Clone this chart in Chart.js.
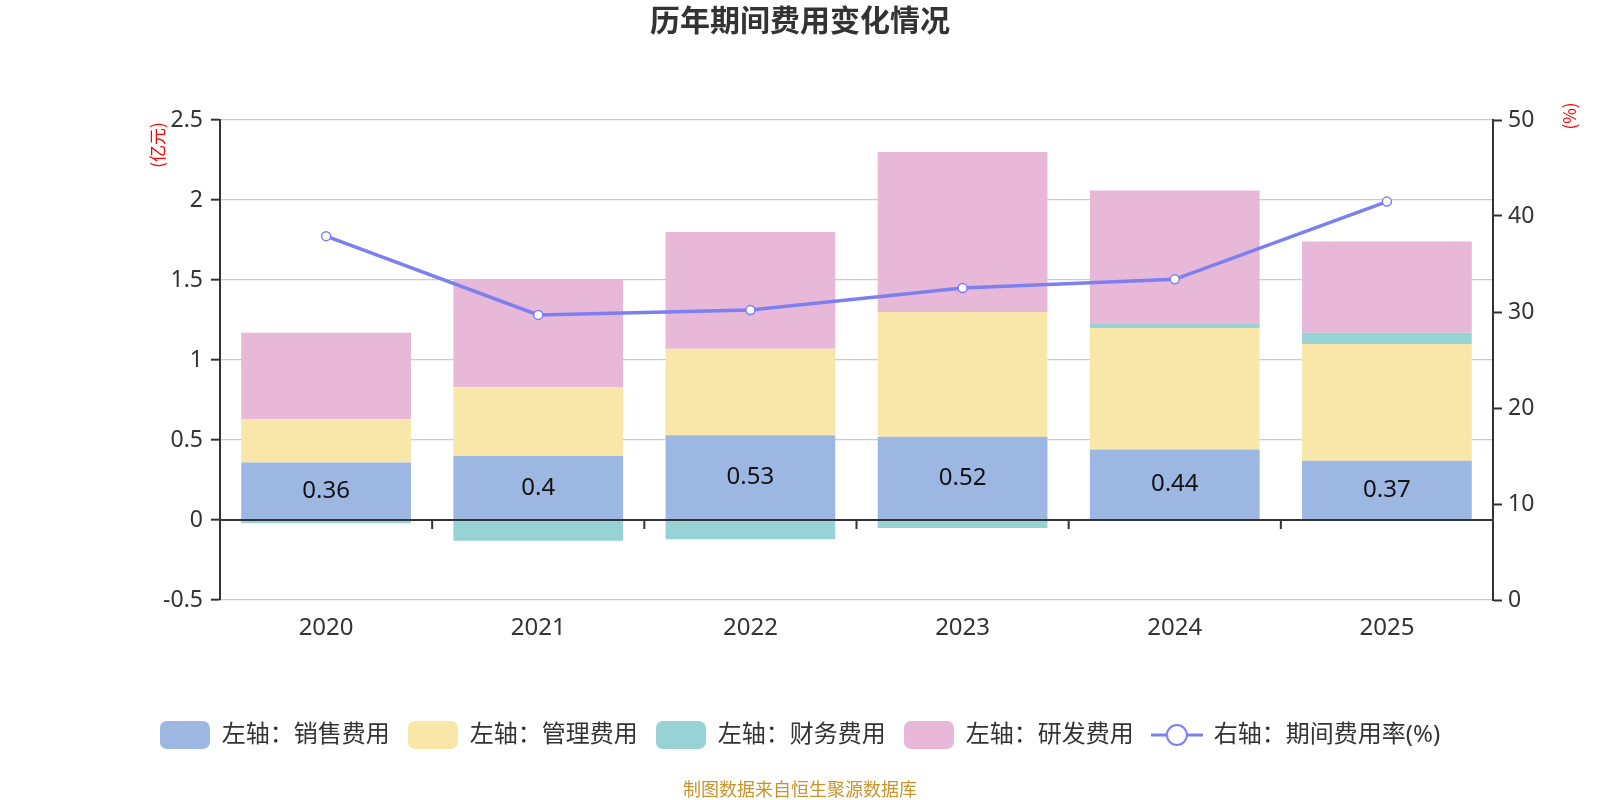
<!DOCTYPE html>
<html>
<head>
<meta charset="utf-8">
<script src="https://cdn.jsdelivr.net/npm/chart.js@4/dist/chart.umd.min.js"></script>
<style>
  body { margin: 0; background: #fff; }
  #wrap { width: 1600px; height: 800px; }
</style>
</head>
<body>
<div id="wrap"><canvas id="feeChart" width="1600" height="800"></canvas></div>
<script>
  // 数据
  const years = ["2020", "2021", "2022", "2023", "2024", "2025"];
  const sales = [0.36, 0.4, 0.53, 0.52, 0.44, 0.37];
  const admin = [0.27, 0.43, 0.54, 0.78, 0.76, 0.73];
  const finance = [-0.02, -0.13, -0.12, -0.05, 0.03, 0.07];
  const rnd = [0.54, 0.67, 0.73, 1.0, 0.83, 0.57];
  const feeRate = [37.9, 29.7, 30.2, 32.5, 33.4, 41.5];

  const colors = ["#9cb8e2", "#f8e7a9", "#97d3d4", "#e8b8d8"];
  const lineColor = "#7b7ff0";

  Chart.defaults.font.family = '"Noto Sans", "Noto Sans CJK SC", sans-serif';
  Chart.defaults.color = "#333";

  // 图例图标
  function boxIcon(color) {
    const c = document.createElement("canvas");
    c.width = 50; c.height = 28;
    const g = c.getContext("2d");
    g.fillStyle = color;
    g.beginPath();
    g.roundRect(0, 0, 50, 28, 7);
    g.fill();
    return c;
  }
  function lineIcon() {
    const c = document.createElement("canvas");
    c.width = 52; c.height = 28;
    const g = c.getContext("2d");
    g.strokeStyle = lineColor;
    g.lineWidth = 3;
    g.beginPath(); g.moveTo(0, 14); g.lineTo(52, 14); g.stroke();
    g.fillStyle = "#fff";
    g.lineWidth = 2;
    g.beginPath(); g.arc(26, 14, 10, 0, Math.PI * 2); g.fill(); g.stroke();
    return c;
  }
  const legendIcons = colors.map(boxIcon).concat([lineIcon()]);

  // 额外绘制：零线、数值标签、轴标题、来源
  const extras = {
    id: "extras",
    afterDatasetsDraw(chart) {
      const { ctx, chartArea, scales } = chart;
      const x = scales.x, y0 = scales.y.getPixelForValue(0);
      ctx.save();
      ctx.strokeStyle = "#333";
      ctx.lineWidth = 2;
      ctx.beginPath();
      ctx.moveTo(chartArea.left, y0);
      ctx.lineTo(chartArea.right, y0);
      for (let i = 1; i < years.length; i++) {
        const bx = (x.getPixelForValue(i - 1) + x.getPixelForValue(i)) / 2;
        ctx.moveTo(bx, y0);
        ctx.lineTo(bx, y0 + 9);
      }
      ctx.stroke();

      const meta = chart.getDatasetMeta(0);
      ctx.fillStyle = "#111";
      ctx.font = '24px "Noto Sans", sans-serif';
      ctx.textAlign = "center";
      ctx.textBaseline = "middle";
      meta.data.forEach((bar, i) => {
        ctx.fillText(String(sales[i]), bar.x, (bar.y + bar.base) / 2);
      });
      ctx.restore();
    },
    afterDraw(chart) {
      const ctx = chart.ctx;
      ctx.save();
      ctx.fillStyle = "#ff0000";
      ctx.font = '17px "Noto Sans CJK SC", sans-serif';
      ctx.textAlign = "center";
      ctx.textBaseline = "middle";
      ctx.translate(158, 145);
      ctx.rotate(-Math.PI / 2);
      ctx.fillText("(亿元)", 0, 0);
      ctx.restore();

      ctx.save();
      ctx.fillStyle = "#ff0000";
      ctx.font = '17px "Noto Sans CJK SC", sans-serif';
      ctx.textAlign = "center";
      ctx.textBaseline = "middle";
      ctx.translate(1570, 116);
      ctx.rotate(-Math.PI / 2);
      ctx.fillText("(%)", 0, 0);
      ctx.restore();

      ctx.save();
      ctx.fillStyle = "#c8942c";
      ctx.font = '18px "Noto Sans CJK SC", sans-serif';
      ctx.textAlign = "center";
      ctx.textBaseline = "middle";
      ctx.fillText("制图数据来自恒生聚源数据库", 800, 789);
      ctx.restore();
    }
  };

  const barBase = { type: "bar", yAxisID: "y", stack: "fee", order: 1, borderWidth: 0 };

  new Chart(document.getElementById("feeChart"), {
    data: {
      labels: years,
      datasets: [
        { ...barBase, label: "左轴：销售费用", data: sales, backgroundColor: colors[0] },
        { ...barBase, label: "左轴：管理费用", data: admin, backgroundColor: colors[1] },
        { ...barBase, label: "左轴：财务费用", data: finance, backgroundColor: colors[2] },
        { ...barBase, label: "左轴：研发费用", data: rnd, backgroundColor: colors[3] },
        {
          type: "line", label: "右轴：期间费用率(%)", data: feeRate, yAxisID: "y1", order: 0,
          borderColor: lineColor, borderWidth: 3.5, pointRadius: 4.5, pointBorderWidth: 1.5,
          pointBackgroundColor: "#fff", pointBorderColor: lineColor, tension: 0
        }
      ]
    },
    options: {
      responsive: false,
      animation: false,
      layout: { padding: { left: 0, right: 0, top: 0, bottom: 43 } },
      datasets: { bar: { categoryPercentage: 0.8, barPercentage: 1.0 } },
      plugins: {
        title: {
          display: true, text: "历年期间费用变化情况", color: "#333",
          font: { size: 30, weight: "bold" }, padding: { top: 4, bottom: 80 }
        },
        legend: {
          position: "bottom",
          labels: {
            usePointStyle: true, pointStyleWidth: 50, boxHeight: 24, padding: 18,
            color: "#333", font: { size: 24 },
            sort: (a, b) => a.datasetIndex - b.datasetIndex,
            generateLabels(chart) {
              const items = Chart.defaults.plugins.legend.labels.generateLabels(chart);
              items.forEach((it) => { it.pointStyle = legendIcons[it.datasetIndex]; });
              return items;
            }
          }
        },
        tooltip: { enabled: false }
      },
      scales: {
        x: {
          grid: { display: false },
          border: { display: false },
          ticks: { padding: 6, color: "#333", font: { size: 24 } },
          afterFit(s) { s.height = 105; }
        },
        y: {
          position: "left", stacked: true, min: -0.5, max: 2.5,
          ticks: {
            stepSize: 0.5, padding: 8, color: "#333", font: { size: 23 },
            callback: (v) => String(+v.toFixed(1))
          },
          grid: { color: "#cccccc", lineWidth: 1.3, tickColor: "#333", tickLength: 9, tickWidth: 2 },
          border: { display: true, color: "#333", width: 2 },
          afterFit(s) { s.width = 220; }
        },
        y1: {
          position: "right", min: 0, max: 50,
          ticks: { stepSize: 10, padding: 6, color: "#333", font: { size: 23 } },
          grid: { drawOnChartArea: false, tickColor: "#333", tickLength: 9, tickWidth: 2 },
          border: { display: true, color: "#333", width: 2 },
          afterFit(s) { s.width = 107; }
        }
      }
    },
    plugins: [extras]
  });
</script>
</body>
</html>
